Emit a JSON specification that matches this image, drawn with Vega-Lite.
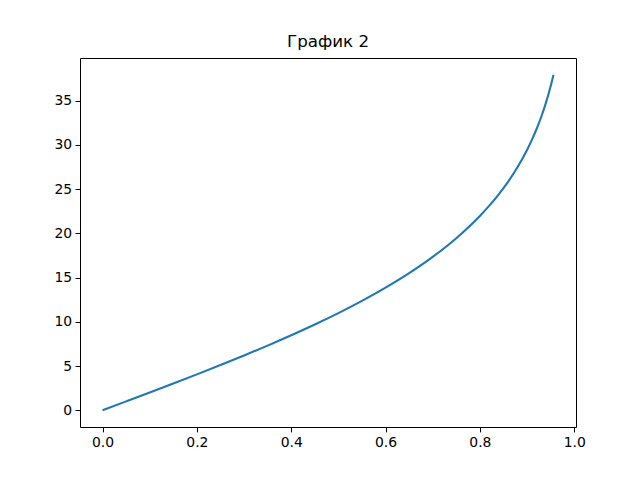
{
  "$schema": "https://vega.github.io/schema/vega-lite/v6.json",
  "width": 496,
  "height": 369,
  "autosize": {"type": "none"},
  "padding": {"left": 80, "top": 58, "right": 64, "bottom": 53},
  "background": "white",
  "title": {"text": "График 2", "font": "DejaVu Sans", "fontSize": 16.7, "fontWeight": "normal", "color": "black", "offset": 7, "anchor": "middle"},
  "config": {
    "view": {"stroke": "black", "strokeWidth": 1},
    "axis": {
      "grid": false,
      "domain": false,
      "tickColor": "black",
      "tickSize": 4.9,
      "tickWidth": 1,
      "labelFont": "DejaVu Sans",
      "labelFontSize": 13.9,
      "labelColor": "black",
      "labelPadding": 3.5,
      "title": null
    }
  },
  "data": {
    "values": [
      {"x": 0, "y": 0},
      {"x": 0.05, "y": 1.001},
      {"x": 0.1, "y": 2.007},
      {"x": 0.15, "y": 3.023},
      {"x": 0.2, "y": 4.055},
      {"x": 0.25, "y": 5.108},
      {"x": 0.3, "y": 6.19},
      {"x": 0.35, "y": 7.309},
      {"x": 0.4, "y": 8.473},
      {"x": 0.45, "y": 9.694},
      {"x": 0.5, "y": 10.986},
      {"x": 0.55, "y": 12.368},
      {"x": 0.6, "y": 13.863},
      {"x": 0.65, "y": 15.506},
      {"x": 0.7, "y": 17.346},
      {"x": 0.75, "y": 19.459},
      {"x": 0.8, "y": 21.972},
      {"x": 0.82, "y": 23.136},
      {"x": 0.84, "y": 24.423},
      {"x": 0.85, "y": 25.123},
      {"x": 0.86, "y": 25.867},
      {"x": 0.88, "y": 27.515},
      {"x": 0.9, "y": 29.444},
      {"x": 0.91, "y": 30.551},
      {"x": 0.92, "y": 31.781},
      {"x": 0.93, "y": 33.168},
      {"x": 0.94, "y": 34.761},
      {"x": 0.95, "y": 36.636},
      {"x": 0.956, "y": 37.944}
    ]
  },
  "mark": {"type": "line", "color": "#1f77b4", "strokeWidth": 2.08, "interpolate": "monotone"},
  "encoding": {
    "x": {
      "field": "x", "type": "quantitative",
      "scale": {"domain": [-0.0478, 1.0038], "nice": false, "zero": false},
      "axis": {"values": [0, 0.2, 0.4, 0.6, 0.8, 1.0], "format": ".1f"}
    },
    "y": {
      "field": "y", "type": "quantitative",
      "scale": {"domain": [-1.897, 39.84], "nice": false, "zero": false},
      "axis": {"values": [0, 5, 10, 15, 20, 25, 30, 35], "format": "d"}
    }
  }
}
